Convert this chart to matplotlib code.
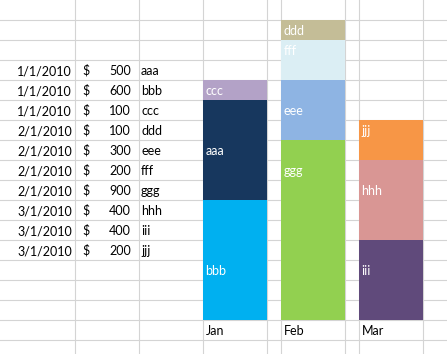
import matplotlib.pyplot as plt

# sheet data
dates=['1/1/2010','1/1/2010','1/1/2010','2/1/2010','2/1/2010','2/1/2010','2/1/2010','3/1/2010','3/1/2010','3/1/2010']
amounts=[500,600,100,100,300,200,900,400,400,200]
names=['aaa','bbb','ccc','ddd','eee','fff','ggg','hhh','iii','jjj']

# stacked "cell chart" (bottom to top)
months=['Jan','Feb','Mar']
stacks={
    'Jan':['bbb','aaa','ccc'],
    'Feb':['ggg','eee','fff','ddd'],
    'Mar':['iii','hhh','jjj'],
}
colors={
    'aaa':'#17375E','bbb':'#00B0F0','ccc':'#B3A2C7',
    'ddd':'#C4BD97','eee':'#8EB4E3','fff':'#DBEEF4','ggg':'#92D050',
    'hhh':'#D99694','iii':'#604A7B','jjj':'#F79646',
}
# sheet row where each label was typed
label_row={'ddd':2,'fff':3,'ccc':5,'eee':6,'jjj':7,'aaa':8,'ggg':9,'hhh':10,'bbb':14,'iii':14}

# layout in pixels (x) / value units (y): 20 px per row = 100 units
col_lines=[74.5,138.5,202.5,266.5,280.5,344.5,358.5,422.5]
month_left={'Jan':202.5,'Feb':280.5,'Mar':358.5}
col_w=64
W,H=447,354
base_px=319.5   # pixel row where value 0 sits
upp=5           # value units per pixel

def row_base(k):
    # text baseline of sheet row k (1-based)
    return (base_px-(20*k-5))*upp

plt.rcParams['font.family']=['Lato','DejaVu Sans']
fig=plt.figure(figsize=(W/100,H/100),dpi=100)
ax=fig.add_axes([0,0,1,1])
ax.set_xlim(0,W)
ax.set_ylim((base_px-H)*upp,base_px*upp)
ax.axis('off')

grid='#D4D4D4'
for k in range(1,18):
    ax.axhline((base_px-(20*k-0.5))*upp,color=grid,lw=0.8,zorder=1)
for x in col_lines:
    ax.axvline(x,color=grid,lw=0.8,zorder=1)

amt=dict(zip(names,amounts))
for m in months:
    bottom=0
    for n in stacks[m]:
        ax.bar(month_left[m],amt[n],width=col_w,bottom=bottom,align='edge',
               color=colors[n],zorder=2,linewidth=0)
        bottom+=amt[n]
        ax.text(month_left[m]+3,row_base(label_row[n]),n,color='white',
                fontsize=9,va='baseline',ha='left',zorder=3)
    ax.text(month_left[m]+3,row_base(17),m,color='black',fontsize=9,
            va='baseline',ha='left',zorder=3)

for i,(d,a,n) in enumerate(zip(dates,amounts,names)):
    y=row_base(4+i)
    ax.text(72,y,d,ha='right',va='baseline',fontsize=9,color='black')
    ax.text(82,y,'$',ha='left',va='baseline',fontsize=9,color='black')
    ax.text(131,y,str(a),ha='right',va='baseline',fontsize=9,color='black')
    ax.text(141,y,n,ha='left',va='baseline',fontsize=9,color='black')

fig.savefig('out.png',dpi=100)
